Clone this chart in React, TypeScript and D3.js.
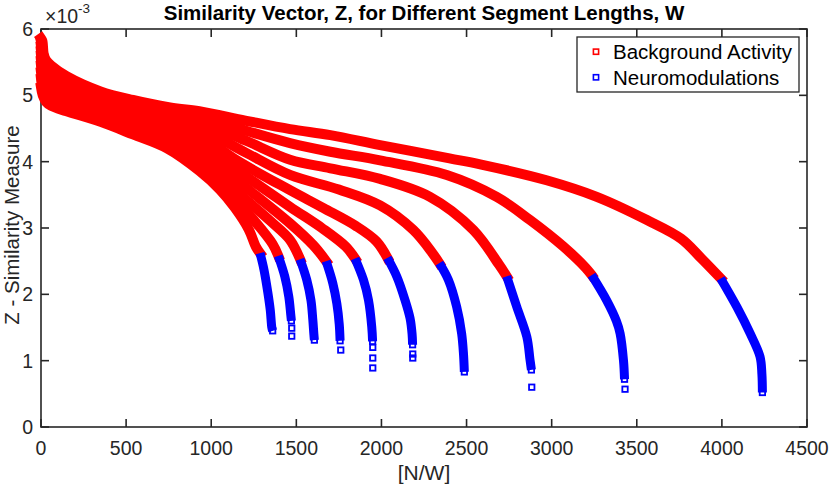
import * as d3 from 'd3';

type Pt = [number, number];

// Sorted similarity values per segment length: [index N/W, Z (x1e-3)]
// red part = background activity, blue tail = neuromodulations
const BG_1: Pt[] = [[0, 5.12], [10, 5.0], [30, 4.9], [60, 4.84], [150, 4.76], [350, 4.6], [540, 4.41], [740, 4.2], [930, 3.86], [1050, 3.58], [1140, 3.3], [1220, 2.98], [1262, 2.72], [1287, 2.62]];
const NM_1: Pt[] = [[1287, 2.62], [1310, 2.37], [1333, 2.02], [1347, 1.76], [1356, 1.5], [1361, 1.45]];

const BG_2: Pt[] = [[0, 5.25], [10, 5.1], [30, 5.0], [60, 4.93], [150, 4.82], [350, 4.66], [540, 4.48], [750, 4.27], [930, 3.97], [1100, 3.56], [1250, 3.12], [1360, 2.76], [1394, 2.58]];
const NM_2: Pt[] = [[1394, 2.58], [1432, 2.27], [1456, 1.96], [1467, 1.7], [1471, 1.6]];

const BG_3: Pt[] = [[0, 5.35], [10, 5.2], [30, 5.08], [60, 5.0], [150, 4.88], [350, 4.7], [540, 4.53], [750, 4.33], [930, 4.07], [1150, 3.55], [1350, 3.1], [1463, 2.82], [1522, 2.53]];
const NM_3: Pt[] = [[1522, 2.53], [1561, 2.22], [1586, 1.91], [1597, 1.61], [1603, 1.4], [1606, 1.31]];

const BG_4: Pt[] = [[0, 5.45], [10, 5.28], [30, 5.15], [60, 5.07], [150, 4.95], [350, 4.76], [540, 4.6], [750, 4.41], [930, 4.18], [1150, 3.72], [1463, 3.07], [1600, 2.74], [1675, 2.5]];
const NM_4: Pt[] = [[1675, 2.5], [1714, 2.17], [1738, 1.86], [1752, 1.55], [1757, 1.3]];

const BG_5: Pt[] = [[0, 5.52], [10, 5.35], [30, 5.22], [60, 5.13], [150, 5.0], [350, 4.81], [540, 4.66], [750, 4.48], [930, 4.3], [1150, 3.88], [1463, 3.32], [1650, 3.0], [1790, 2.72], [1845, 2.54]];
const NM_5: Pt[] = [[1845, 2.54], [1894, 2.22], [1924, 1.91], [1943, 1.51], [1948, 1.29]];

const BG_6: Pt[] = [[0, 5.6], [10, 5.42], [30, 5.28], [60, 5.18], [150, 5.05], [350, 4.86], [540, 4.72], [750, 4.55], [930, 4.4], [1150, 4.02], [1463, 3.57], [1660, 3.3], [1850, 3.03], [1970, 2.8], [2035, 2.55]];
const NM_6: Pt[] = [[2035, 2.55], [2090, 2.27], [2139, 1.91], [2168, 1.64], [2180, 1.4], [2183, 1.24]];

const BG_7: Pt[] = [[0, 5.67], [10, 5.5], [30, 5.34], [60, 5.24], [150, 5.1], [350, 4.9], [540, 4.77], [750, 4.62], [930, 4.5], [1200, 4.14], [1463, 3.8], [1750, 3.58], [1992, 3.34], [2187, 2.97], [2300, 2.62], [2340, 2.47]];
const NM_7: Pt[] = [[2340, 2.47], [2393, 2.22], [2442, 1.81], [2471, 1.41], [2482, 1.1], [2487, 0.83]];

const BG_8: Pt[] = [[0, 5.74], [10, 5.58], [30, 5.4], [60, 5.3], [150, 5.15], [350, 4.95], [540, 4.82], [750, 4.69], [930, 4.6], [1200, 4.32], [1463, 4.03], [1700, 3.9], [1992, 3.74], [2285, 3.47], [2540, 2.97], [2690, 2.45], [2736, 2.27]];
const NM_8: Pt[] = [[2736, 2.27], [2795, 1.81], [2854, 1.36], [2873, 1.01], [2881, 0.86]];

const BG_9: Pt[] = [[0, 5.8], [10, 5.66], [30, 5.46], [60, 5.37], [150, 5.22], [350, 5.01], [540, 4.87], [750, 4.76], [930, 4.69], [1200, 4.47], [1463, 4.28], [1700, 4.15], [1992, 4.02], [2384, 3.8], [2677, 3.47], [2873, 3.12], [3069, 2.72], [3200, 2.4], [3235, 2.29]];
const NM_9: Pt[] = [[3235, 2.29], [3323, 1.91], [3380, 1.6], [3402, 1.41], [3422, 1.0], [3428, 0.72]];

const BG_10: Pt[] = [[0, 5.86], [8, 5.82], [16, 5.62], [30, 5.53], [60, 5.45], [150, 5.29], [350, 5.06], [540, 4.93], [750, 4.82], [930, 4.76], [1200, 4.62], [1463, 4.49], [1700, 4.4], [1992, 4.25], [2400, 4.05], [2580, 3.96], [2970, 3.72], [3265, 3.47], [3560, 3.12], [3760, 2.84], [3880, 2.54], [3993, 2.24]];
const NM_10: Pt[] = [[3993, 2.24], [4088, 1.81], [4166, 1.41], [4224, 1.06], [4235, 0.8], [4238, 0.52]];

// isolated neuromodulation markers below the tails
const NM_OUTLIERS: Pt[] = [[1473, 1.49], [1473, 1.37], [1761, 1.16], [1949, 1.2], [1949, 1.04], [1949, 0.89], [2184, 1.1], [2184, 1.04], [2883, 0.6], [3431, 0.57]];

const X_TICKS = [0, 500, 1000, 1500, 2000, 2500, 3000, 3500, 4000, 4500];
const Y_TICKS = [0, 1, 2, 3, 4, 5, 6];
const LEGEND_LABELS = ['Background Activity', 'Neuromodulations'];

const BG_COLOR = '#ff0000';
const NM_COLOR = '#0000ff';
const AXIS_COLOR = '#262626';
const FONT = '"Liberation Sans", Arial, Helvetica, sans-serif';

const WIDTH = 830;
const HEIGHT = 485;

export default function App() {
  const curves = [
    { bg: BG_1, nm: NM_1 }, { bg: BG_2, nm: NM_2 }, { bg: BG_3, nm: NM_3 }, { bg: BG_4, nm: NM_4 },
    { bg: BG_5, nm: NM_5 }, { bg: BG_6, nm: NM_6 }, { bg: BG_7, nm: NM_7 }, { bg: BG_8, nm: NM_8 },
    { bg: BG_9, nm: NM_9 }, { bg: BG_10, nm: NM_10 },
  ];

  const x = d3.scaleLinear().domain([0, 4500]).range([41, 807]);
  const y = d3.scaleLinear().domain([0, 6]).range([427, 29]);
  const [x0, x1] = x.range();
  const [y0, y1] = y.range();
  const tickLen = 8;

  // smooth curve through the read-off points
  const line = d3.line<Pt>()
    .x(d => x(d[0]))
    .y(d => y(d[1]))
    .curve(d3.curveCatmullRom.alpha(0.5));

  const tailEnds: Pt[] = curves.map(c => c.nm[c.nm.length - 1]);
  const markerSize = 5.4;

  return (
    <div style={{ position: 'absolute', left: 0, top: 0 }}>
      <svg width={WIDTH} height={HEIGHT} viewBox={`0 0 ${WIDTH} ${HEIGHT}`} style={{ display: 'block', background: '#fff' }} fontFamily={FONT}>
        {/* axes box + ticks */}
        <rect x={x0} y={y1} width={x1 - x0} height={y0 - y1} fill="none" stroke={AXIS_COLOR} strokeWidth={1.6} />
        {X_TICKS.map(t => (
          <g key={`xt${t}`}>
            <line x1={x(t)} x2={x(t)} y1={y0} y2={y0 - tickLen} stroke={AXIS_COLOR} strokeWidth={1.6} />
            <line x1={x(t)} x2={x(t)} y1={y1} y2={y1 + tickLen} stroke={AXIS_COLOR} strokeWidth={1.6} />
            <text x={x(t)} y={455} textAnchor="middle" fontSize={19.5} fill={AXIS_COLOR}>{t}</text>
          </g>
        ))}
        {Y_TICKS.map(t => (
          <g key={`yt${t}`}>
            <line x1={x0} x2={x0 + tickLen} y1={y(t)} y2={y(t)} stroke={AXIS_COLOR} strokeWidth={1.6} />
            <line x1={x1} x2={x1 - tickLen} y1={y(t)} y2={y(t)} stroke={AXIS_COLOR} strokeWidth={1.6} />
            <text x={33} y={y(t) + 7} textAnchor="end" fontSize={19.5} fill={AXIS_COLOR}>{t}</text>
          </g>
        ))}

        {/* exponent */}
        <text x={45} y={23} fontSize={19.5} fill={AXIS_COLOR}>
          ×10<tspan dy={-10} fontSize={13.5}>-3</tspan>
        </text>

        {/* data */}
        <g>
          {curves.map((c, i) => (
            <g key={`c${i}`}>
              <path d={line(c.bg) ?? ''} fill="none" stroke={BG_COLOR} strokeWidth={10} strokeLinecap="square" strokeLinejoin="round" />
              <path d={line(c.nm) ?? ''} fill="none" stroke={NM_COLOR} strokeWidth={9} strokeLinecap="butt" strokeLinejoin="round" />
            </g>
          ))}
          {[...tailEnds, ...NM_OUTLIERS].map((p, i) => (
            <rect key={`o${i}`} x={x(p[0]) - markerSize / 2} y={y(p[1]) - markerSize / 2} width={markerSize} height={markerSize}
              fill="none" stroke={NM_COLOR} strokeWidth={1.8} />
          ))}
        </g>

        {/* labels */}
        <text x={(x0 + x1) / 2} y={20} textAnchor="middle" fontSize={20.5} fontWeight="bold" fill="#000">
          Similarity Vector, Z, for Different Segment Lengths, W
        </text>
        <text x={(x0 + x1) / 2} y={480} textAnchor="middle" fontSize={21} fill={AXIS_COLOR}>[N/W]</text>
        <text transform={`translate(19, ${(y0 + y1) / 2 - 3}) rotate(-90)`} textAnchor="middle" fontSize={20.5} fill={AXIS_COLOR}>
          Z - Similarity Measure
        </text>

        {/* legend */}
        <g>
          <rect x={577} y={37} width={222} height={55} fill="#fff" stroke={AXIS_COLOR} strokeWidth={1.3} />
          {LEGEND_LABELS.map((label, i) => (
            <g key={label}>
              <rect x={596 - 2.6} y={51.7 + i * 25.6 - 2.6} width={5.2} height={5.2} fill="none"
                stroke={i === 0 ? BG_COLOR : NM_COLOR} strokeWidth={1.6} />
              <text x={613} y={59.3 + i * 25.7} fontSize={20.5} fill="#000">{label}</text>
            </g>
          ))}
        </g>
      </svg>
    </div>
  );
}
